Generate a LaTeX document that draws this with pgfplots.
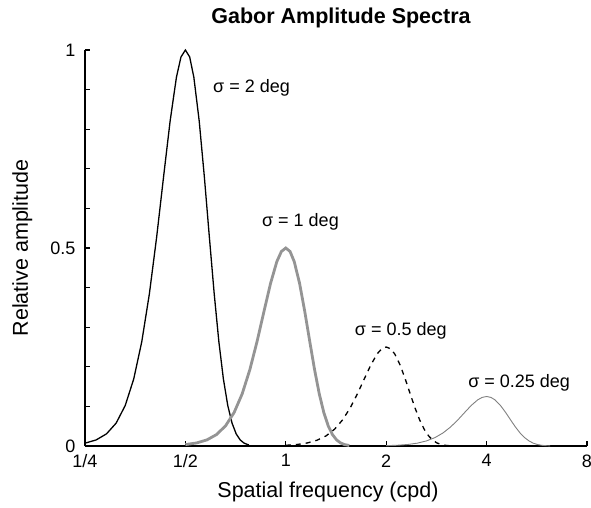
\documentclass[border=0pt]{standalone}
\usepackage{pgfplots}
\pgfplotsset{compat=1.18}
\usepackage{fontspec}
\setmainfont{Liberation Sans}

\begin{document}
\begin{tikzpicture}[x=1pt,y=1pt]
\useasboundingbox (-85,-61) rectangle (506,446);
\begin{axis}[
  at={(0,0)}, anchor=south west,
  scale only axis, width=502pt, height=396pt,
  xmode=log, log basis x=2,
  xmin=0.25, xmax=8, ymin=0, ymax=1,
  axis lines=left, axis line style={-, line width=1.4pt},
  tick align=inside,
  major tick length=5pt, minor tick length=5pt,
  tick style={line width=1.1pt, black},
  xtick={0.25,0.5,1,2,4,8},
  xticklabels={1/4,1/2,1,2,4,8},
  ytick={0,0.5,1}, yticklabels={0,0.5,1},
  minor ytick={0.1,0.2,0.3,0.4,0.6,0.7,0.8,0.9},
  /pgf/number format/assume math mode=true,
  xticklabel style={font=\fontsize{18}{20}\selectfont, yshift=-5pt},
  yticklabel style={font=\fontsize{18}{20}\selectfont, xshift=-6pt},
  clip=false,
  title={\bfseries Gabor Amplitude Spectra},
  title style={font=\fontsize{21.5}{24}\selectfont, at={(axis description cs:0.51,1.066)}, anchor=center},
  xlabel={Spatial frequency (cpd)},
  xlabel style={font=\fontsize{21.5}{24}\selectfont, at={(axis description cs:0.484,-0.116)}, anchor=center},
  ylabel={Relative amplitude},
  ylabel style={font=\fontsize{21.5}{24}\selectfont, at={(axis description cs:-0.125,0.5)}, anchor=center},
]
% sigma = 2 deg, peak at 1/2 cpd
\addplot[black, line width=1.3pt] coordinates {
 (0.25,0.0072) (0.27,0.0153) (0.29,0.0307) (0.31,0.0578) (0.33,0.1021)
 (0.35,0.1692) (0.37,0.2634) (0.39,0.3847) (0.41,0.5275) (0.43,0.6792)
 (0.45,0.8209) (0.47,0.9314) (0.485,0.9824) (0.5,1.0) (0.515,0.9824)
 (0.53,0.9314) (0.55,0.8209) (0.57,0.6792) (0.59,0.5275) (0.61,0.3847)
 (0.63,0.2634) (0.65,0.1692) (0.67,0.1021) (0.69,0.0578) (0.71,0.0307)
 (0.73,0.0153) (0.75,0.0072) (0.775,0.0026)
};
% sigma = 1 deg, peak at 1 cpd
\addplot[black!42, line width=2.8pt] coordinates {
 (0.5,0.0036) (0.54,0.0077) (0.58,0.0154) (0.62,0.0289) (0.66,0.0511)
 (0.70,0.0846) (0.74,0.1317) (0.78,0.1924) (0.82,0.2638) (0.86,0.3396)
 (0.90,0.4105) (0.94,0.4657) (0.97,0.4912) (1.0,0.5) (1.03,0.4912)
 (1.06,0.4657) (1.10,0.4105) (1.14,0.3396) (1.18,0.2638) (1.22,0.1924)
 (1.26,0.1317) (1.30,0.0846) (1.34,0.0511) (1.38,0.0289) (1.42,0.0154)
 (1.46,0.0077) (1.50,0.0036) (1.55,0.0013)
};
% sigma = 0.5 deg, peak at 2 cpd
\addplot[black, line width=1.3pt, dash pattern=on 5pt off 5pt] coordinates {
 (1.0,0.0018) (1.08,0.0038) (1.16,0.0077) (1.24,0.0145) (1.32,0.0255)
 (1.40,0.0423) (1.48,0.0659) (1.56,0.0962) (1.64,0.1319) (1.72,0.1698)
 (1.80,0.2052) (1.88,0.2329) (1.94,0.2456) (2.0,0.25) (2.06,0.2456)
 (2.12,0.2329) (2.20,0.2052) (2.28,0.1698) (2.36,0.1319) (2.44,0.0962)
 (2.52,0.0659) (2.60,0.0423) (2.68,0.0255) (2.76,0.0145) (2.84,0.0077)
 (2.92,0.0038) (3.0,0.0018) (3.1,0.0006)
};
% sigma = 0.25 deg, peak at 4 cpd
\addplot[black!50, line width=0.9pt] coordinates {
 (2.0,0.0009) (2.16,0.0019) (2.32,0.0038) (2.48,0.0072) (2.64,0.0128)
 (2.80,0.0212) (2.96,0.0329) (3.12,0.0481) (3.28,0.0659) (3.44,0.0849)
 (3.60,0.1026) (3.76,0.1164) (3.88,0.1228) (4.0,0.125) (4.12,0.1228)
 (4.24,0.1164) (4.40,0.1026) (4.56,0.0849) (4.72,0.0659) (4.88,0.0481)
 (5.04,0.0329) (5.20,0.0212) (5.36,0.0128) (5.52,0.0072) (5.68,0.0038)
 (5.84,0.0019) (6.0,0.0009) (6.2,0.0003)
};
\begin{scope}[every node/.style={font=\fontsize{18}{20}\selectfont, anchor=west, inner sep=0pt}]
\node at (axis cs:0.605,0.904) {σ = 2 deg};
\node at (axis cs:0.848,0.566) {σ = 1 deg};
\node at (axis cs:1.61,0.29) {σ = 0.5 deg};
\node at (axis cs:3.52,0.159) {σ = 0.25 deg};
\end{scope}
\end{axis}
\end{tikzpicture}
\end{document}
